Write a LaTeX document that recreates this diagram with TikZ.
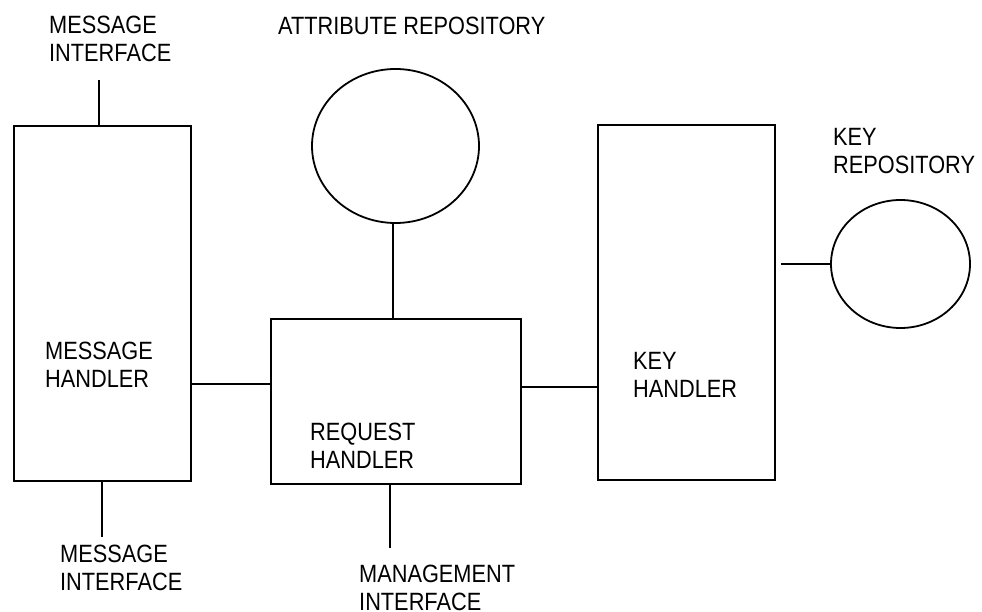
\documentclass[tikz,border=0pt]{standalone}
\usepackage{fontspec}
\setmainfont{Liberation Sans}[FakeStretch=0.87]
\usetikzlibrary{shapes.geometric}

\begin{document}
\begin{tikzpicture}[x=1pt,y=-1pt,
  wire/.style={line width=1.8pt},
  block/.style={draw,line width=1.8pt,rectangle,inner sep=0pt,anchor=north west},
  store/.style={draw,line width=1.8pt,ellipse,inner sep=0pt},
  label/.style={anchor=north west,inner sep=0pt,align=left,
                font=\fontsize{25}{28}\selectfont}]
  \useasboundingbox (0,0) rectangle (982,612);

  % processing blocks
  \node[block,minimum width=177pt,minimum height=355pt] (mh) at (13,125) {};
  \node[block,minimum width=250pt,minimum height=165pt] (rh) at (270,318) {};
  \node[block,minimum width=177pt,minimum height=355pt] (kh) at (597,124) {};

  % repositories
  \node[store,minimum width=167pt,minimum height=154pt] (ar) at (395.5,146) {};
  \node[store,minimum width=139pt,minimum height=128pt] (kr) at (900.5,264) {};

  % free ends of the interface lines
  \coordinate (mitop) at (99,80);
  \coordinate (mibot) at (102,537);
  \coordinate (mgbot) at (390,548);

  % connections
  \draw[wire] (mitop) -- (mitop |- mh.north);
  \draw[wire] (mh.south -| mibot) -- (mibot);
  \draw[wire] (mh.east |- 0,384) -- (rh.west |- 0,384);
  \draw[wire] (rh.north -| 393,0) -- (ar.south -| 393,0);
  \draw[wire] (rh.south -| mgbot) -- (mgbot);
  \draw[wire] (rh.east |- 0,387) -- (kh.west |- 0,387);
  \draw[wire] ([xshift=5pt]kh.east |- kr.west) -- (kr.west);

  % labels
  \node[label] (t1) at (49,16)  {MESSAGE\\INTERFACE};
  \node[label] (t2) at (278,17) {ATTRIBUTE REPOSITORY};
  \node[label] (t3) at (833,128) {KEY\\REPOSITORY};
  \node[label] (t4) at (45,342) {MESSAGE\\HANDLER};
  \node[label] (t5) at (310,423) {REQUEST\\HANDLER};
  \node[label] (t6) at (633,352) {KEY\\HANDLER};
  \node[label] (t7) at (60,545) {MESSAGE\\INTERFACE};
  \node[label] (t8) at (359,565) {MANAGEMENT\\INTERFACE};
\end{tikzpicture}
\end{document}
